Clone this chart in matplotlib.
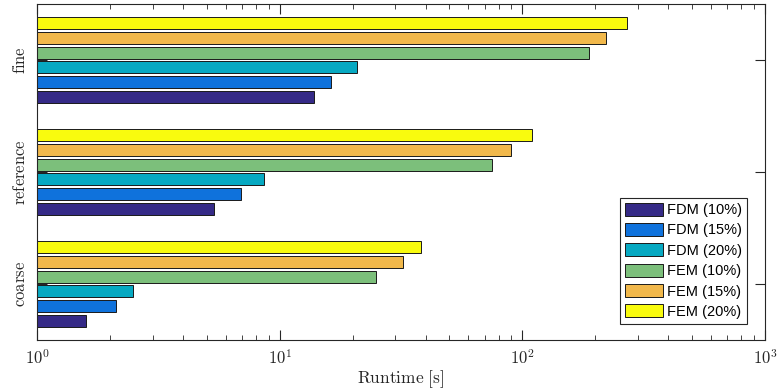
import numpy as np
import matplotlib
matplotlib.use("Agg")
import matplotlib.pyplot as plt
from matplotlib.ticker import LogLocator, NullFormatter

plt.rcParams['mathtext.fontset'] = 'cm'

groups = ['coarse', 'reference', 'fine']
series = ['FDM (10%)', 'FDM (15%)', 'FDM (20%)', 'FEM (10%)', 'FEM (15%)', 'FEM (20%)']
# values[series][group]
fdm10 = [1.59, 5.36, 13.9]
fdm15 = [2.12, 6.95, 16.2]
fdm20 = [2.49, 8.64, 20.8]
fem10 = [25.0, 75.0, 188.0]
fem15 = [32.1, 90.0, 222.0]
fem20 = [38.1, 110.0, 271.0]
values = [fdm10, fdm15, fdm20, fem10, fem15, fem20]
colors = ['#352A87', '#0F72DC', '#07A9C2', '#7CBF7B', '#F1B84B', '#F9FB0E']

fig = plt.figure(figsize=(7.81, 3.91), dpi=100)
ax = fig.add_axes([37/781, 1-340/391, (765-37)/781, (340-4)/391])

n = len(series)
gw = 0.8
step = gw / n
ypos = np.arange(1, len(groups) + 1)
for i, (vals, c, lab) in enumerate(zip(values, colors, series)):
    off = -gw/2 + step*(i + 0.5)
    ax.barh(ypos + off, vals, height=step*0.8, color=c,
            edgecolor='#1a1a1a', linewidth=0.7, label=lab)

ax.set_xscale('log')
ax.set_xlim(1, 1000)
ax.set_ylim(0.5, 3.5)
ax.set_yticks(ypos)
ax.set_yticklabels([r'$\mathrm{%s}$' % g for g in groups], rotation=90,
                   va='center', fontsize=12, color='#262626')
ax.xaxis.set_major_locator(LogLocator(base=10, numticks=10))
ax.xaxis.set_minor_locator(LogLocator(base=10, subs=np.arange(2, 10), numticks=10))
ax.xaxis.set_minor_formatter(NullFormatter())
ax.set_xticks([1, 10, 100, 1000])
ax.set_xticklabels([r'$10^{0}$', r'$10^{1}$', r'$10^{2}$', r'$10^{3}$'], fontsize=12, color='#262626')
ax.tick_params(which='both', direction='in', top=True, right=True, color='#262626')
ax.tick_params(which='major', length=7, width=0.8)
ax.tick_params(which='minor', length=3.5, width=0.6)
ax.tick_params(axis='x', pad=7)
ax.tick_params(axis='y', pad=6)
for s in ax.spines.values():
    s.set_color('#262626')
    s.set_linewidth(0.8)

ax.set_xlabel(r'$\mathrm{Runtime\ [s]}$', fontsize=12.5, color='#262626', labelpad=0)

leg = ax.legend(loc='lower right', bbox_to_anchor=(747/781, 1-324/391),
                bbox_transform=fig.transFigure,
                prop={'family': 'Liberation Sans', 'size': 10.5},
                fancybox=False, framealpha=1, edgecolor='#262626',
                handlelength=2.6, handleheight=1.0, handletextpad=0.3,
                labelspacing=0.4, borderpad=0.35, borderaxespad=0)
leg.get_frame().set_linewidth(0.8)

fig.savefig('out.png', dpi=100)
